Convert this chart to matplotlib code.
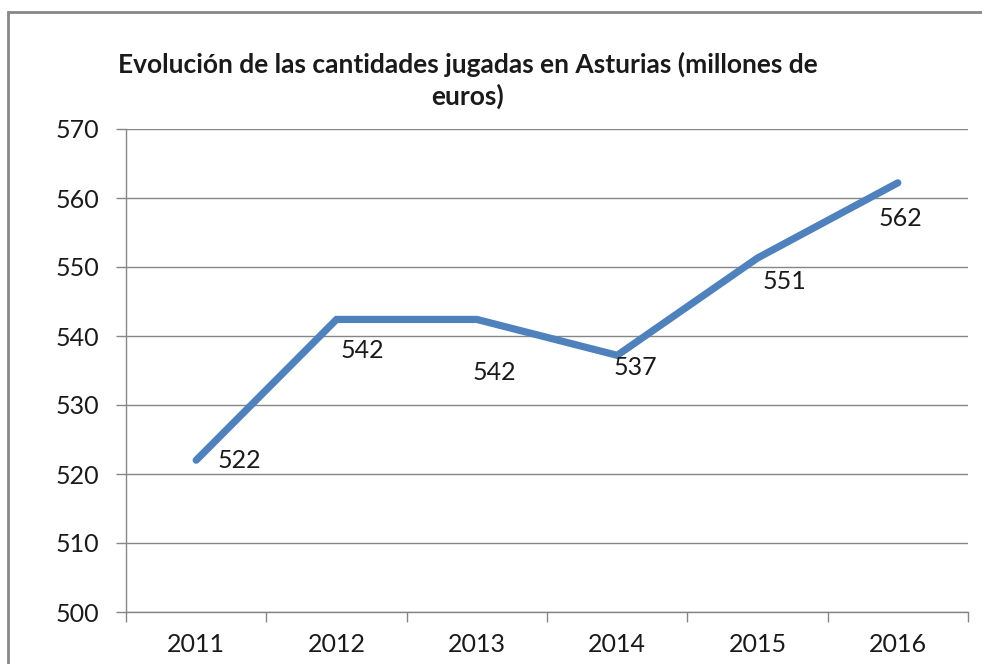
import matplotlib
matplotlib.use("Agg")
import matplotlib.pyplot as plt
from matplotlib.patches import Rectangle

years = ["2011", "2012", "2013", "2014", "2015", "2016"]
values = [522.0, 542.4, 542.4, 537.2, 551.3, 562.2]
labels = ["522", "542", "542", "537", "551", "562"]
# label offsets in pixels (Excel put them a bit below/right of the points)
label_dx = [43, 26, 18, 18, 27, 3]
label_dy = [0, -31, -53, -12, -23, -36]

plt.rcParams["font.family"] = ["Lato", "DejaVu Sans"]
gray = "#868686"

fig = plt.figure(figsize=(9.82, 6.64), dpi=100)
ax = fig.add_axes([126 / 982, 1 - 612 / 664, (968 - 126) / 982, (612 - 129) / 664])

x = list(range(len(years)))
ax.plot(x, values, color="#4F81BD", lw=5.2, solid_capstyle="round", solid_joinstyle="miter")
for xi, v, lab, dx, dy in zip(x, values, labels, label_dx, label_dy):
    ax.annotate(lab, (xi, v), xytext=(dx, dy), textcoords="offset pixels",
                ha="center", va="center", fontsize=18, color="#1a1a1a")

ax.set_xlim(-0.5, len(years) - 0.5)
ax.set_ylim(500, 570)
ax.set_yticks(range(500, 571, 10))
ax.set_xticks(x)
ax.set_xticklabels(years)
ax.set_xticks([i - 0.5 for i in range(len(years) + 1)], minor=True)
ax.tick_params(axis="x", which="major", length=0, pad=15, labelsize=18, labelcolor="#1a1a1a")
ax.tick_params(axis="x", which="minor", length=7, width=1, color=gray, direction="out")
ax.tick_params(axis="y", length=7, width=1, color=gray, direction="out", pad=12,
               labelsize=18, labelcolor="#1a1a1a")
ax.grid(axis="y", color=gray, lw=1)
ax.set_axisbelow(True)
for side in ["top", "right"]:
    ax.spines[side].set_visible(False)
for side in ["left", "bottom"]:
    ax.spines[side].set_color(gray)
    ax.spines[side].set_linewidth(1)

fig.text(468 / 982, 1 - 80 / 664,
         "Evolución de las cantidades jugadas en Asturias (millones de\neuros)",
         ha="center", va="center", fontsize=19, fontweight="bold", linespacing=1.3,
         color="#1a1a1a")

# outer chart border (cut off by the image edge on the right and bottom)
fig.patches.append(Rectangle((8 / 982, -0.1), 1.2, 1 - 12 / 664 + 0.1,
                             transform=fig.transFigure, fill=False,
                             edgecolor="#878787", lw=2))

fig.savefig("out.png", dpi=100)
